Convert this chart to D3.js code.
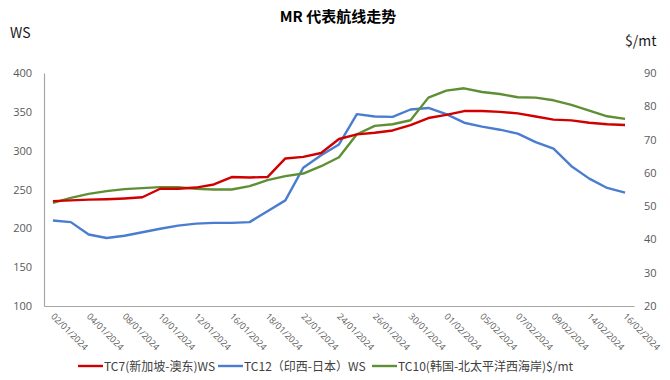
<!DOCTYPE html>
<html>
<head>
<meta charset="utf-8">
<script src="https://cdn.jsdelivr.net/npm/d3@7"></script>
<style>
  html, body { margin: 0; padding: 0; background: #fff; }
  svg { display: block; font-family: "Noto Sans CJK SC", "Open Sans", sans-serif; }
</style>
</head>
<body>
<svg id="chart" width="670" height="380"></svg>
<script>
const categories = ["02/01/2024","03/01/2024","04/01/2024","05/01/2024","08/01/2024","09/01/2024","10/01/2024","11/01/2024","12/01/2024","15/01/2024","16/01/2024","17/01/2024","18/01/2024","19/01/2024","22/01/2024","23/01/2024","24/01/2024","25/01/2024","26/01/2024","29/01/2024","30/01/2024","31/01/2024","01/02/2024","02/02/2024","05/02/2024","06/02/2024","07/02/2024","08/02/2024","09/02/2024","13/02/2024","14/02/2024","15/02/2024","16/02/2024"];
const tc7 = [235,236,237,237.5,238.5,240,251,251,252.5,256.5,266,265.5,266,290,292,297,315,321,323,326,333,342,346,351,351,350,348,344,340,339,336,334,333];
const tc12 = [210,208,192,187.5,190.5,195,199.5,203.5,206,207,207,208,222,236,278,294,308,347,344,343.5,353,355,347,336,331,327,322,311,302.5,280,264,252,246];
const tc10 = [51,52.5,53.7,54.5,55.1,55.4,55.7,55.7,55.2,55,55,56,57.8,59,59.8,62,64.7,71.6,74.1,74.6,75.8,82.6,84.7,85.4,84.3,83.7,82.7,82.6,81.8,80.4,78.7,77,76.2];
const leftTicks = [100,150,200,250,300,350,400];
const rightTicks = [20,30,40,50,60,70,80,90];
const xTickLabels = categories.filter((d,i) => i % 2 === 0);
const seriesNames = ["TC7(新加坡-澳东)WS", "TC12（印西-日本）WS", "TC10(韩国-北太平洋西海岸)$/mt"];
const title = "MR 代表航线走势";

const svg = d3.select("#chart");
const x = d3.scalePoint().domain(categories).range([44, 634]).padding(0.5);
const yL = d3.scaleLinear().domain([100, 400]).range([306, 73]);
const yR = d3.scaleLinear().domain([20, 90]).range([306, 73]);

// title
svg.append("text").attr("x", 338).attr("y", 22).attr("text-anchor", "middle")
  .attr("font-size", 15).attr("font-weight", "bold").attr("fill", "#000")
  .attr("font-family", "'Noto Sans CJK SC', sans-serif").text(title);

// axis unit labels
svg.append("text").attr("x", 10).attr("y", 38).attr("font-size", 14).attr("fill", "#1a1a1a").text("WS");
svg.append("text").attr("x", 625).attr("y", 46).attr("font-size", 14).attr("fill", "#1a1a1a").text("$/mt");

const gray = "#a6a6a6";
const tickColor = "#595959";

// left axis
const gL = svg.append("g").attr("transform", "translate(44,0)")
  .call(d3.axisLeft(yL).tickValues(leftTicks).tickSize(0).tickPadding(12));
gL.select(".domain").attr("stroke", gray).attr("stroke-width", 1.2);
gL.selectAll("text").attr("font-size", 11).attr("fill", tickColor).attr("font-family", "'Open Sans', sans-serif");

// right axis (labels only)
const gR = svg.append("g").attr("transform", "translate(634,0)")
  .call(d3.axisRight(yR).tickValues(rightTicks).tickSize(0).tickPadding(10));
gR.select(".domain").remove();
gR.selectAll("text").attr("font-size", 11).attr("fill", tickColor).attr("font-family", "'Open Sans', sans-serif");

// bottom axis
const gB = svg.append("g").attr("transform", "translate(0,306)")
  .call(d3.axisBottom(x).tickValues(xTickLabels).tickSize(0).tickSizeOuter(0));
gB.select(".domain").attr("stroke", gray).attr("stroke-width", 1.2);
gB.selectAll("text").attr("font-size", 9).attr("fill", tickColor)
  .attr("font-family", "'Open Sans', sans-serif")
  .attr("text-anchor", "start").attr("dy", null).attr("y", 0)
  .attr("transform", function(d) { return "translate(-3,11) rotate(45)"; });

// lines
const lineL = d3.line().x((d,i) => x(categories[i])).y(d => yL(d));
const lineR = d3.line().x((d,i) => x(categories[i])).y(d => yR(d));
const colors = ["#d00000", "#4a7dd0", "#5e8f35"];
svg.append("path").datum(tc12).attr("d", lineL).attr("fill", "none").attr("stroke", colors[1]).attr("stroke-width", 2.4).attr("stroke-linejoin", "round");
svg.append("path").datum(tc10).attr("d", lineR).attr("fill", "none").attr("stroke", colors[2]).attr("stroke-width", 2.4).attr("stroke-linejoin", "round");
svg.append("path").datum(tc7).attr("d", lineL).attr("fill", "none").attr("stroke", colors[0]).attr("stroke-width", 2.4).attr("stroke-linejoin", "round");

// legend
const legendX = [78, 218, 372];
const lg = svg.append("g");
seriesNames.forEach((name, i) => {
  lg.append("line").attr("x1", legendX[i]).attr("x2", legendX[i] + 25).attr("y1", 366).attr("y2", 366)
    .attr("stroke", colors[i]).attr("stroke-width", 2.4);
  lg.append("text").attr("x", legendX[i] + 26).attr("y", 370.5).attr("font-size", 12)
    .attr("fill", "#404040").text(name);
});
</script>
</body>
</html>
